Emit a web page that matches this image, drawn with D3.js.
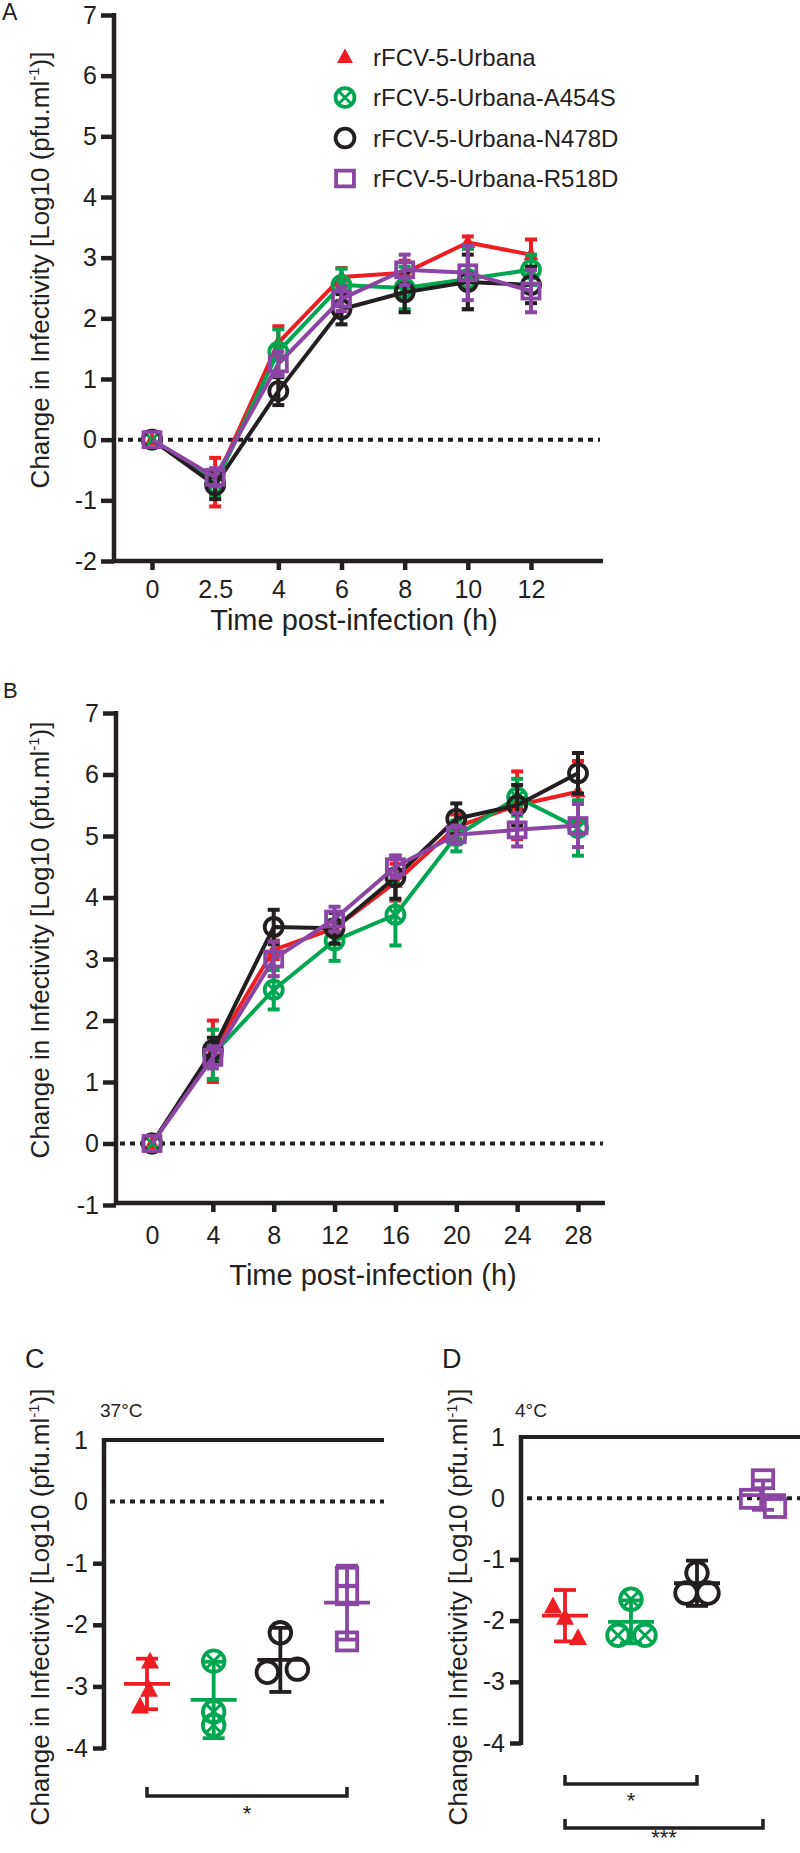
<!DOCTYPE html>
<html><head><meta charset="utf-8">
<script src="https://cdn.jsdelivr.net/npm/d3@7"></script>
<style>
body{margin:0;background:#fff}
text{font-family:"Liberation Sans",Arial,Helvetica,sans-serif;fill:#231f20}
</style>
</head><body>
<svg id="chart" width="800" height="1853"></svg>
<script>
// ---------- shared series info ----------
const seriesNames  = ["rFCV-5-Urbana","rFCV-5-Urbana-A454S","rFCV-5-Urbana-N478D","rFCV-5-Urbana-R518D"];
const seriesColors = ["#ee1d24","#00a650","#231f20","#8b45a3"];
const seriesShapes = ["triangle","crossCircle","circle","square"];

// ---------- panel A (37°C growth, 0-12 h) ----------
const timesA = ["0","2.5","4","6","8","10","12"];
const yTicksA = [-2,-1,0,1,2,3,4,5,6,7];
const meanA_Urbana = [0,-0.70,1.60,2.68,2.75,3.25,3.05];
const sdA_Urbana   = [0, 0.40,0.27,0.15,0.20,0.10,0.25];
const meanA_A454S  = [0,-0.72,1.45,2.55,2.50,2.65,2.80];
const sdA_A454S    = [0, 0.20,0.37,0.27,0.35,0.50,0.25];
const meanA_N478D  = [0,-0.75,0.80,2.15,2.43,2.60,2.55];
const sdA_N478D    = [0, 0.23,0.23,0.25,0.33,0.45,0.30];
const meanA_R518D  = [0,-0.62,1.25,2.32,2.80,2.75,2.45];
const sdA_R518D    = [0, 0.15,0.20,0.20,0.25,0.45,0.35];

// ---------- panel B (growth, 0-28 h) ----------
const timesB = [0,4,8,12,16,20,24,28];
const yTicksB = [-1,0,1,2,3,4,5,6,7];
const meanB_Urbana = [0,1.50,3.15,3.50,4.25,5.15,5.50,5.72];
const sdB_Urbana   = [0,0.50,0.15,0.10,0.30,0.20,0.55,0.50];
const meanB_A454S  = [0,1.45,2.50,3.30,3.72,5.00,5.63,5.13];
const sdB_A454S    = [0,0.40,0.32,0.33,0.50,0.25,0.30,0.45];
const meanB_N478D  = [0,1.52,3.52,3.50,4.33,5.28,5.50,6.02];
const sdB_N478D    = [0,0.20,0.28,0.25,0.35,0.25,0.33,0.33];
const meanB_R518D  = [0,1.40,3.00,3.65,4.50,5.02,5.10,5.17];
const sdB_R518D    = [0,0.18,0.28,0.20,0.18,0.15,0.27,0.35];

// ---------- panels C / D (thermal stability) ----------
const yTicksCD = [-4,-3,-2,-1,0,1];
const replicatesC = [[-2.60,-3.06,-3.33],[-2.59,-3.41,-3.63],[-2.13,-2.77,-2.72],[-1.22,-1.52,-2.27]];
const meanC = [-2.96,-3.22,-2.57,-1.64];
const sdC   = [0.41,0.62,0.52,0.60];
const replicatesD = [[-1.77,-1.96,-2.29],[-1.65,-2.24,-2.24],[-1.22,-1.55,-1.55],[0.31,-0.01,-0.16]];
const meanD = [-1.92,-2.02,-1.39,0.05];
const sdD   = [0.42,0.35,0.37,0.24];
// horizontal spread of replicate symbols (layout only, px)
const spreadC = [[3,2,-7],[0,0,0],[0,-13,17],[0,0,0]];
const spreadD = [[-12,0,13],[0,-13,14],[0,-11,11],[0,-12,12]];

const yLabel = "Change in Infectivity [Log10 (pfu.ml";

// ---------- helpers ----------
const svg = d3.select("#chart");
const fmt = d => String(d);

function drawMarker(g, shape, x, y, color, s){
  s = s || 1;
  if(shape==="triangle"){
    const w=15*s,h=14*s;
    g.append("path").attr("d",`M${x},${y-h*0.6}L${x+w/2},${y+h*0.4}L${x-w/2},${y+h*0.4}Z`).attr("fill",color);
  } else if(shape==="circle"){
    g.append("circle").attr("cx",x).attr("cy",y).attr("r",9*s).attr("fill","none").attr("stroke",color).attr("stroke-width",3.8);
  } else if(shape==="crossCircle"){
    const r=9*s;
    g.append("circle").attr("cx",x).attr("cy",y).attr("r",r).attr("fill","none").attr("stroke",color).attr("stroke-width",3.8);
    const d=r*0.72;
    g.append("path").attr("d",`M${x-d},${y-d}L${x+d},${y+d}M${x-d},${y+d}L${x+d},${y-d}`).attr("stroke",color).attr("stroke-width",3);
  } else if(shape==="square"){
    const w=17*s,h=15*s;
    g.append("rect").attr("x",x-w/2).attr("y",y-h/2).attr("width",w).attr("height",h).attr("fill","none").attr("stroke",color).attr("stroke-width",3.8);
  }
}

function yTitle(x, yc){
  const t = svg.append("text").attr("transform",`translate(${x},${yc}) rotate(-90)`)
    .attr("text-anchor","middle").attr("font-size",26).attr("dy","0.36em");
  t.append("tspan").text(yLabel);
  t.append("tspan").attr("font-size",15).attr("dy",-10).text("-1");
  t.append("tspan").attr("dy",10).text(")]");
}

function styleAxis(g, sw){
  g.selectAll("path.domain").remove();
  g.selectAll(".tick line").attr("stroke","#231f20").attr("stroke-width",sw);
  g.selectAll(".tick text").attr("fill","#231f20");
}

function dotted(x1,x2,y){
  svg.append("line").attr("x1",x1).attr("x2",x2).attr("y1",y).attr("y2",y)
    .attr("stroke","#231f20").attr("stroke-width",4).attr("stroke-dasharray","5,5");
}

function lineSeries(g, xs, means, sds, x, y, color, shape, cap){
  const pts = xs.map((t,i)=>({x:x(t), m:means[i], s:sds[i]}));
  g.append("path").datum(pts)
    .attr("d", d3.line().x(d=>d.x).y(d=>y(d.m)))
    .attr("fill","none").attr("stroke",color).attr("stroke-width",4).attr("stroke-linejoin","round");
  pts.forEach(p=>{
    if(p.s>0){
      const y1=y(p.m+p.s), y2=y(p.m-p.s);
      g.append("line").attr("x1",p.x).attr("x2",p.x).attr("y1",y1).attr("y2",y2).attr("stroke",color).attr("stroke-width",4);
      [y1,y2].forEach(yy=>g.append("line").attr("x1",p.x-cap).attr("x2",p.x+cap).attr("y1",yy).attr("y2",yy).attr("stroke",color).attr("stroke-width",4));
    }
  });
  pts.forEach(p=>drawMarker(g, shape, p.x, y(p.m), color, 1));
}

// =============== PANEL A ===============
{
  const x = d3.scalePoint().domain(timesA).range([152,531]);
  const y = d3.scaleLinear().domain([-2,7]).range([561,15]);
  svg.append("text").attr("x",2).attr("y",20).attr("font-size",23).text("A");
  const gy = svg.append("g").attr("transform","translate(114,0)")
    .call(d3.axisLeft(y).tickValues(yTicksA).tickFormat(fmt).tickSize(13).tickPadding(4));
  styleAxis(gy,4.5); gy.selectAll(".tick text").attr("font-size",25);
  svg.append("line").attr("x1",114).attr("x2",114).attr("y1",13).attr("y2",563).attr("stroke","#231f20").attr("stroke-width",4.5);
  const gx = svg.append("g").attr("transform","translate(0,561)")
    .call(d3.axisBottom(x).tickSize(9).tickPadding(10));
  styleAxis(gx,4.5); gx.selectAll(".tick text").attr("font-size",25);
  gx.selectAll(".tick").filter(d=>d==="2.5").select("line").remove();
  svg.append("line").attr("x1",112).attr("x2",603).attr("y1",561).attr("y2",561).attr("stroke","#231f20").attr("stroke-width",4.5);
  svg.append("text").attr("x",354).attr("y",630).attr("text-anchor","middle").attr("font-size",29).text("Time post-infection (h)");
  yTitle(40,270);
  dotted(118,600,y(0));
  const g = svg.append("g");
  const M=[meanA_Urbana,meanA_A454S,meanA_N478D,meanA_R518D], S=[sdA_Urbana,sdA_A454S,sdA_N478D,sdA_R518D];
  M.forEach((m,i)=>lineSeries(g,timesA,m,S[i],x,y,seriesColors[i],seriesShapes[i],6));
  // legend
  const lg = svg.append("g");
  seriesNames.forEach((n,i)=>{
    const yy = 57 + i*40.5;
    drawMarker(lg, seriesShapes[i], 345, yy, seriesColors[i], 1.05);
    lg.append("text").attr("x",373).attr("y",yy).attr("dy","0.36em").attr("font-size",24).text(n);
  });
}

// =============== PANEL B ===============
{
  const x = d3.scaleLinear().domain([0,28]).range([152,578]);
  const y = d3.scaleLinear().domain([-1,7]).range([1205,713]);
  svg.append("text").attr("x",3).attr("y",698).attr("font-size",22).text("B");
  const gy = svg.append("g").attr("transform","translate(116,0)")
    .call(d3.axisLeft(y).tickValues(yTicksB).tickFormat(fmt).tickSize(13).tickPadding(4));
  styleAxis(gy,4.5); gy.selectAll(".tick text").attr("font-size",25);
  svg.append("line").attr("x1",116).attr("x2",116).attr("y1",711).attr("y2",1205).attr("stroke","#231f20").attr("stroke-width",4.5);
  const gx = svg.append("g").attr("transform","translate(0,1203)")
    .call(d3.axisBottom(x).tickValues(timesB).tickFormat(fmt).tickSize(9).tickPadding(14));
  styleAxis(gx,4.5);
  gx.selectAll(".tick text").attr("font-size",25).attr("font-family","Liberation Sans Narrow, Arial Narrow, Liberation Sans, sans-serif");
  gx.selectAll(".tick").filter(d=>d===0).select("line").remove();
  svg.append("line").attr("x1",114).attr("x2",605).attr("y1",1203).attr("y2",1203).attr("stroke","#231f20").attr("stroke-width",4.5);
  svg.append("text").attr("x",373).attr("y",1285).attr("text-anchor","middle").attr("font-size",29).text("Time post-infection (h)");
  yTitle(40,940);
  dotted(120,603,y(0));
  const g = svg.append("g");
  const M=[meanB_Urbana,meanB_A454S,meanB_N478D,meanB_R518D], S=[sdB_Urbana,sdB_A454S,sdB_N478D,sdB_R518D];
  M.forEach((m,i)=>lineSeries(g,timesB,m,S[i],x,y,seriesColors[i],seriesShapes[i],6));
}

// =============== PANELS C / D ===============
function scatterPanel(opt){
  const x = d3.scalePoint().domain(seriesNames).range(opt.xr);
  const y = d3.scaleLinear().domain([-4,1]).range(opt.yr);
  svg.append("text").attr("x",opt.letterX).attr("y",1368).attr("font-size",27).text(opt.letter);
  svg.append("text").attr("x",opt.tempX).attr("y",1417).attr("font-size",19).text(opt.temp);
  const gy = svg.append("g").attr("transform",`translate(${opt.ax},0)`)
    .call(d3.axisLeft(y).tickValues(yTicksCD).tickFormat(fmt).tickSize(11).tickPadding(5));
  styleAxis(gy,4.5); gy.selectAll(".tick text").attr("font-size",25);
  gy.selectAll(".tick").filter(d=>d>=0).select("line").remove();
  svg.append("line").attr("x1",opt.ax).attr("x2",opt.ax).attr("y1",opt.yr[1]-2).attr("y2",opt.yr[0]+2).attr("stroke","#231f20").attr("stroke-width",4.5);
  svg.append("line").attr("x1",opt.ax-2).attr("x2",opt.topEnd).attr("y1",opt.yr[1]).attr("y2",opt.yr[1]).attr("stroke","#231f20").attr("stroke-width",4);
  yTitle(opt.titleX,1607);
  dotted(opt.ax+6,opt.topEnd,y(0));
  const g = svg.append("g");
  seriesNames.forEach((n,i)=>{
    const cx = x(n), c = seriesColors[i], m = opt.mean[i], s = opt.sd[i];
    g.append("line").attr("x1",cx).attr("x2",cx).attr("y1",y(m+s)).attr("y2",y(m-s)).attr("stroke",c).attr("stroke-width",3.8);
    [m+s,m-s].forEach(v=>g.append("line").attr("x1",cx-11).attr("x2",cx+11).attr("y1",y(v)).attr("y2",y(v)).attr("stroke",c).attr("stroke-width",3.8));
    g.append("line").attr("x1",cx-23).attr("x2",cx+23).attr("y1",y(m)).attr("y2",y(m)).attr("stroke",c).attr("stroke-width",3.8);
    opt.reps[i].forEach((v,j)=>drawMarker(g, seriesShapes[i], cx+opt.spread[i][j], y(v), c, 1.2));
  });
  opt.brackets.forEach(b=>{
    const x1 = x(seriesNames[b.from]), x2 = x(seriesNames[b.to]);
    svg.append("path").attr("d",`M${x1},${b.y-9}V${b.y}H${x2}V${b.y-9}`).attr("fill","none").attr("stroke","#231f20").attr("stroke-width",3.5);
    svg.append("text").attr("x",(x1+x2)/2).attr("y",b.textY).attr("text-anchor","middle").attr("font-size",22).text(b.label);
  });
}

scatterPanel({letter:"C",letterX:25,temp:"37°C",tempX:100,xr:[147,347],yr:[1748,1440],ax:104,topEnd:384,titleX:40,
  reps:replicatesC,mean:meanC,sd:sdC,spread:spreadC,
  brackets:[{from:0,to:3,y:1796,textY:1821,label:"*"}]});
scatterPanel({letter:"D",letterX:442,temp:"4°C",tempX:515,xr:[565,763],yr:[1743,1437],ax:521,topEnd:800,titleX:458,
  reps:replicatesD,mean:meanD,sd:sdD,spread:spreadD,
  brackets:[{from:0,to:2,y:1784,textY:1808,label:"*"},{from:0,to:3,y:1828,textY:1845,label:"***"}]});
</script>
</body></html>
